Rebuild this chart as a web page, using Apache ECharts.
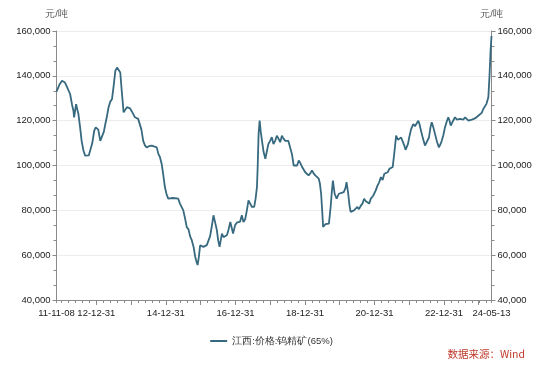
<!DOCTYPE html>
<html><head><meta charset="utf-8">
<script src="https://cdn.jsdelivr.net/npm/echarts@6/dist/echarts.min.js"></script>
<style>html,body{margin:0;padding:0;background:#fff}#c{width:543px;height:370px}</style>
</head><body><div id="c"></div>
<script>
var seriesName = '江西:价格:钨精矿(65%)';
var unitLabel = '元/吨';
var sourceText = '数据来源：Wind';
var xLabelDates = ['2011-11-08','2012-12-31','2014-12-31','2016-12-31','2018-12-31','2020-12-31','2022-12-31','2024-05-13'];
var yTicks = [40000, 60000, 80000, 100000, 120000, 140000, 160000];
var dates = [
'2011-11-08','2011-12-08','2012-01-05','2012-02-05','2012-02-27','2012-03-30','2012-04-20','2012-05-04','2012-05-11','2012-05-21',
'2012-06-01','2012-06-11','2012-06-25','2012-07-13','2012-07-29','2012-08-17','2012-09-04','2012-09-22','2012-10-12','2012-10-27',
'2012-11-18','2012-12-08','2012-12-24','2013-01-06','2013-01-20','2013-02-10','2013-03-03','2013-03-19','2013-04-04','2013-04-19',
'2013-05-08','2013-05-26','2013-06-13','2013-06-29','2013-07-18','2013-08-05','2013-08-21','2013-09-08','2013-09-24','2013-10-13',
'2013-10-30','2013-11-17','2013-12-05','2013-12-20','2014-01-09','2014-02-09','2014-03-15','2014-04-02','2014-04-18','2014-05-07',
'2014-05-25','2014-06-12','2014-07-06','2014-08-04','2014-08-28','2014-09-26','2014-10-13','2014-10-30','2014-11-17','2014-12-03',
'2014-12-21','2015-01-08','2015-01-25','2015-03-15','2015-05-10','2015-05-28','2015-07-02','2015-07-20','2015-08-07','2015-08-26',
'2015-09-11','2015-09-29','2015-10-19','2015-11-04','2015-11-15','2015-11-29','2015-12-12','2015-12-26','2016-01-10','2016-01-29',
'2016-02-16','2016-03-05','2016-03-22','2016-04-09','2016-04-27','2016-05-14','2016-06-01','2016-06-19','2016-07-03','2016-07-17',
'2016-07-29','2016-08-11','2016-08-28','2016-09-15','2016-10-03','2016-10-20','2016-11-07','2016-11-23','2016-12-06','2016-12-27',
'2017-01-14','2017-01-31','2017-02-18','2017-03-08','2017-03-25','2017-04-12','2017-04-30','2017-05-17','2017-06-04','2017-06-22',
'2017-07-16','2017-07-30','2017-08-14','2017-08-22','2017-08-31','2017-09-11','2017-09-23','2017-10-06','2017-10-23','2017-11-10',
'2017-11-28','2017-12-12','2017-12-30','2018-01-17','2018-02-03','2018-02-21','2018-03-11','2018-03-28','2018-04-15','2018-05-03',
'2018-05-20','2018-06-07','2018-07-09','2018-07-30','2018-08-17','2018-09-04','2018-10-10','2018-10-27','2018-11-14','2018-12-02',
'2018-12-18','2019-01-03','2019-01-21','2019-02-07','2019-02-25','2019-03-15','2019-04-01','2019-04-19','2019-05-07','2019-05-25',
'2019-06-06','2019-06-19','2019-06-30','2019-07-10','2019-08-03','2019-09-09','2019-09-27','2019-10-09','2019-10-21','2019-11-08',
'2019-11-29','2019-12-22','2020-01-20','2020-02-12','2020-03-01','2020-03-12','2020-03-28','2020-04-13','2020-04-24','2020-05-12',
'2020-05-29','2020-06-16','2020-07-04','2020-07-21','2020-08-08','2020-08-26','2020-09-13','2020-10-01','2020-10-19','2020-11-05',
'2020-11-22','2020-12-17','2021-01-13','2021-01-31','2021-02-18','2021-03-08','2021-03-26','2021-04-13','2021-05-01','2021-05-19',
'2021-06-05','2021-06-23','2021-07-10','2021-07-28','2021-08-15','2021-09-02','2021-09-19','2021-10-07','2021-10-24','2021-11-12',
'2021-11-22','2021-12-01','2021-12-17','2021-12-31','2022-01-18','2022-02-11','2022-03-01','2022-03-19','2022-04-05','2022-04-17',
'2022-05-03','2022-05-24','2022-06-14','2022-07-05','2022-07-26','2022-08-11','2022-08-24','2022-09-10','2022-09-28','2022-10-19',
'2022-11-08','2022-11-24','2022-12-07','2022-12-24','2023-01-10','2023-01-28','2023-02-14','2023-02-27','2023-03-12','2023-03-31',
'2023-04-26','2023-05-14','2023-05-31','2023-06-18','2023-07-06','2023-07-23','2023-08-10','2023-08-28','2023-09-14','2023-10-02',
'2023-10-20','2023-11-06','2023-11-21','2023-12-09','2023-12-26','2024-01-13','2024-01-31','2024-02-17','2024-03-06','2024-03-21',
'2024-04-10','2024-04-22','2024-05-03','2024-05-13'
];
var prices = [
133000,136000,137800,137000,135000,131900,127000,124400,121500,122000,
127400,125500,123000,117000,111000,106700,104400,104100,104500,105300,
110000,115500,117000,117800,116000,111000,111000,115000,118500,121500,
126000,128500,129600,135000,142200,143700,143700,141500,133000,123700,
123500,126000,126500,125500,124000,121500,120800,120500,116000,111000,
109000,108100,108600,108900,108500,108100,105200,103700,100700,96000,
90400,87000,85200,85500,85200,83000,80000,76500,72600,71500,
68500,66700,63500,59300,57500,55600,59000,64400,65000,63700,
64000,64500,65200,68500,73000,77800,74500,71100,66500,63700,
66500,69600,68000,67400,69000,71500,74800,72000,69600,73300,
74500,74100,75000,77800,74800,76000,80000,84400,83000,81500,
81500,85000,90400,100000,114000,120000,115000,111000,106000,103000,
102200,109600,111000,112600,109600,111000,113300,112000,110400,113300,
112000,111000,111000,110500,105000,100000,100000,102200,101000,99300,
98500,97000,96500,95600,96500,97800,96500,95600,95000,94100,
92000,87400,80000,72600,73800,74100,81500,88000,93300,87400,
85200,87400,87800,88100,90000,92600,88000,82000,79300,78500,
80000,80500,81500,80500,82000,83000,85200,84000,84500,83000,
85200,86500,88900,91000,92500,94800,93500,96300,95500,97000,
98500,98500,99300,106000,113300,111500,111000,112500,111800,108500,
107000,106700,109500,112600,116000,118500,117500,117000,120000,118500,
115600,112000,108900,108900,112500,117000,119300,117000,114000,110500,
108100,109500,111000,113500,117000,119500,121500,120000,117800,119500,
121500,120500,121200,120800,120000,120500,121500,121000,120000,120000,
120500,120800,121000,121500,122200,122500,123500,125200,126000,127500,
130400,140000,151000,157800
];

function ts(d){ return Date.parse(d); }
function pad(n){ return (n<10?'0':'')+n; }
function fmtDate(v){ var d=new Date(v); return pad(d.getUTCFullYear()%100)+'-'+pad(d.getUTCMonth()+1)+'-'+pad(d.getUTCDate()); }
function fmtNum(v){ return String(v).replace(/\B(?=(\d{3})+(?!\d))/g, ','); }

var xMin = ts(xLabelDates[0]), xMax = ts(xLabelDates[xLabelDates.length-1]);
var anchor = ts('2012-12-31');
var step = 0.2*365.25*86400000;
var minorTicks = [xMin];
for (var t = anchor; t > xMin + step*0.3; t -= step) minorTicks.push(t);
for (var t2 = anchor + step; t2 < xMax - step*0.3; t2 += step) minorTicks.push(t2);
minorTicks.push(xMax);
var yearTicks = [];
for (var y = 2012; y <= 2023; y++) yearTicks.push(ts(y+'-12-31'));

var data = dates.map(function(d,i){ return [ts(d), prices[i]]; });
var font = 'Liberation Sans';
var axisColor = '#8a8a8a';

var chart = echarts.init(document.getElementById('c'), null, {renderer:'canvas'});
chart.setOption({
  animation:false,
  backgroundColor:'#fff',
  grid:{left:56.5, right:51.5, top:31, bottom:70},
  xAxis:[{
    type:'value', min:xMin, max:xMax,
    axisLine:{show:true, lineStyle:{color:axisColor, width:1}},
    axisTick:{show:true, customValues:minorTicks, length:3, lineStyle:{color:axisColor}},
    axisLabel:{customValues:xLabelDates.map(ts), formatter:fmtDate, color:'#222', fontFamily:font, fontSize:9.5, margin:8},
    splitLine:{show:false}
  },{
    type:'value', min:xMin, max:xMax, position:'bottom',
    axisLine:{show:false},
    axisTick:{show:true, customValues:yearTicks, length:5, lineStyle:{color:axisColor}},
    axisLabel:{show:false}, splitLine:{show:false}
  }],
  yAxis:[{
    type:'value', min:yTicks[0], max:yTicks[yTicks.length-1], interval:20000, position:'left',
    name:unitLabel, nameLocation:'end', nameGap:12,
    nameTextStyle:{color:'#555', fontFamily:font, fontSize:9.5, align:'center'},
    axisLine:{show:true, lineStyle:{color:axisColor}},
    axisTick:{show:true, length:4, lineStyle:{color:axisColor}},
    minorTick:{show:true, splitNumber:3, length:3, lineStyle:{color:axisColor}},
    axisLabel:{formatter:fmtNum, color:'#222', fontFamily:font, fontSize:9.5, margin:6},
    splitLine:{show:true, lineStyle:{color:'#ededed', width:1}}
  },{
    type:'value', min:yTicks[0], max:yTicks[yTicks.length-1], interval:20000, position:'right',
    name:unitLabel, nameLocation:'end', nameGap:12,
    nameTextStyle:{color:'#555', fontFamily:font, fontSize:9.5, align:'center'},
    axisLine:{show:true, lineStyle:{color:axisColor}},
    axisTick:{show:true, length:4, lineStyle:{color:axisColor}},
    minorTick:{show:true, splitNumber:3, length:3, lineStyle:{color:axisColor}},
    axisLabel:{formatter:fmtNum, color:'#222', fontFamily:font, fontSize:9.5, margin:6},
    splitLine:{show:false}
  }],
  legend:{
    data:[{name:seriesName, icon:'rect'}],
    left:'center', top:331, itemWidth:17, itemHeight:2, itemGap:6,
    textStyle:{color:'#333', fontFamily:font, fontSize:9.5}
  },
  graphic:[{
    type:'text', right:18, top:349,
    style:{text:sourceText, fill:'#c0392b', font:'10.5px "Noto Sans CJK SC"'}
  }],
  series:[{
    name:seriesName, type:'line', xAxisIndex:0, yAxisIndex:0,
    data:data, symbol:'none', smooth:false,
    lineStyle:{color:'#37697f', width:1.8},
    itemStyle:{color:'#37697f'}
  }]
});
</script></body></html>
